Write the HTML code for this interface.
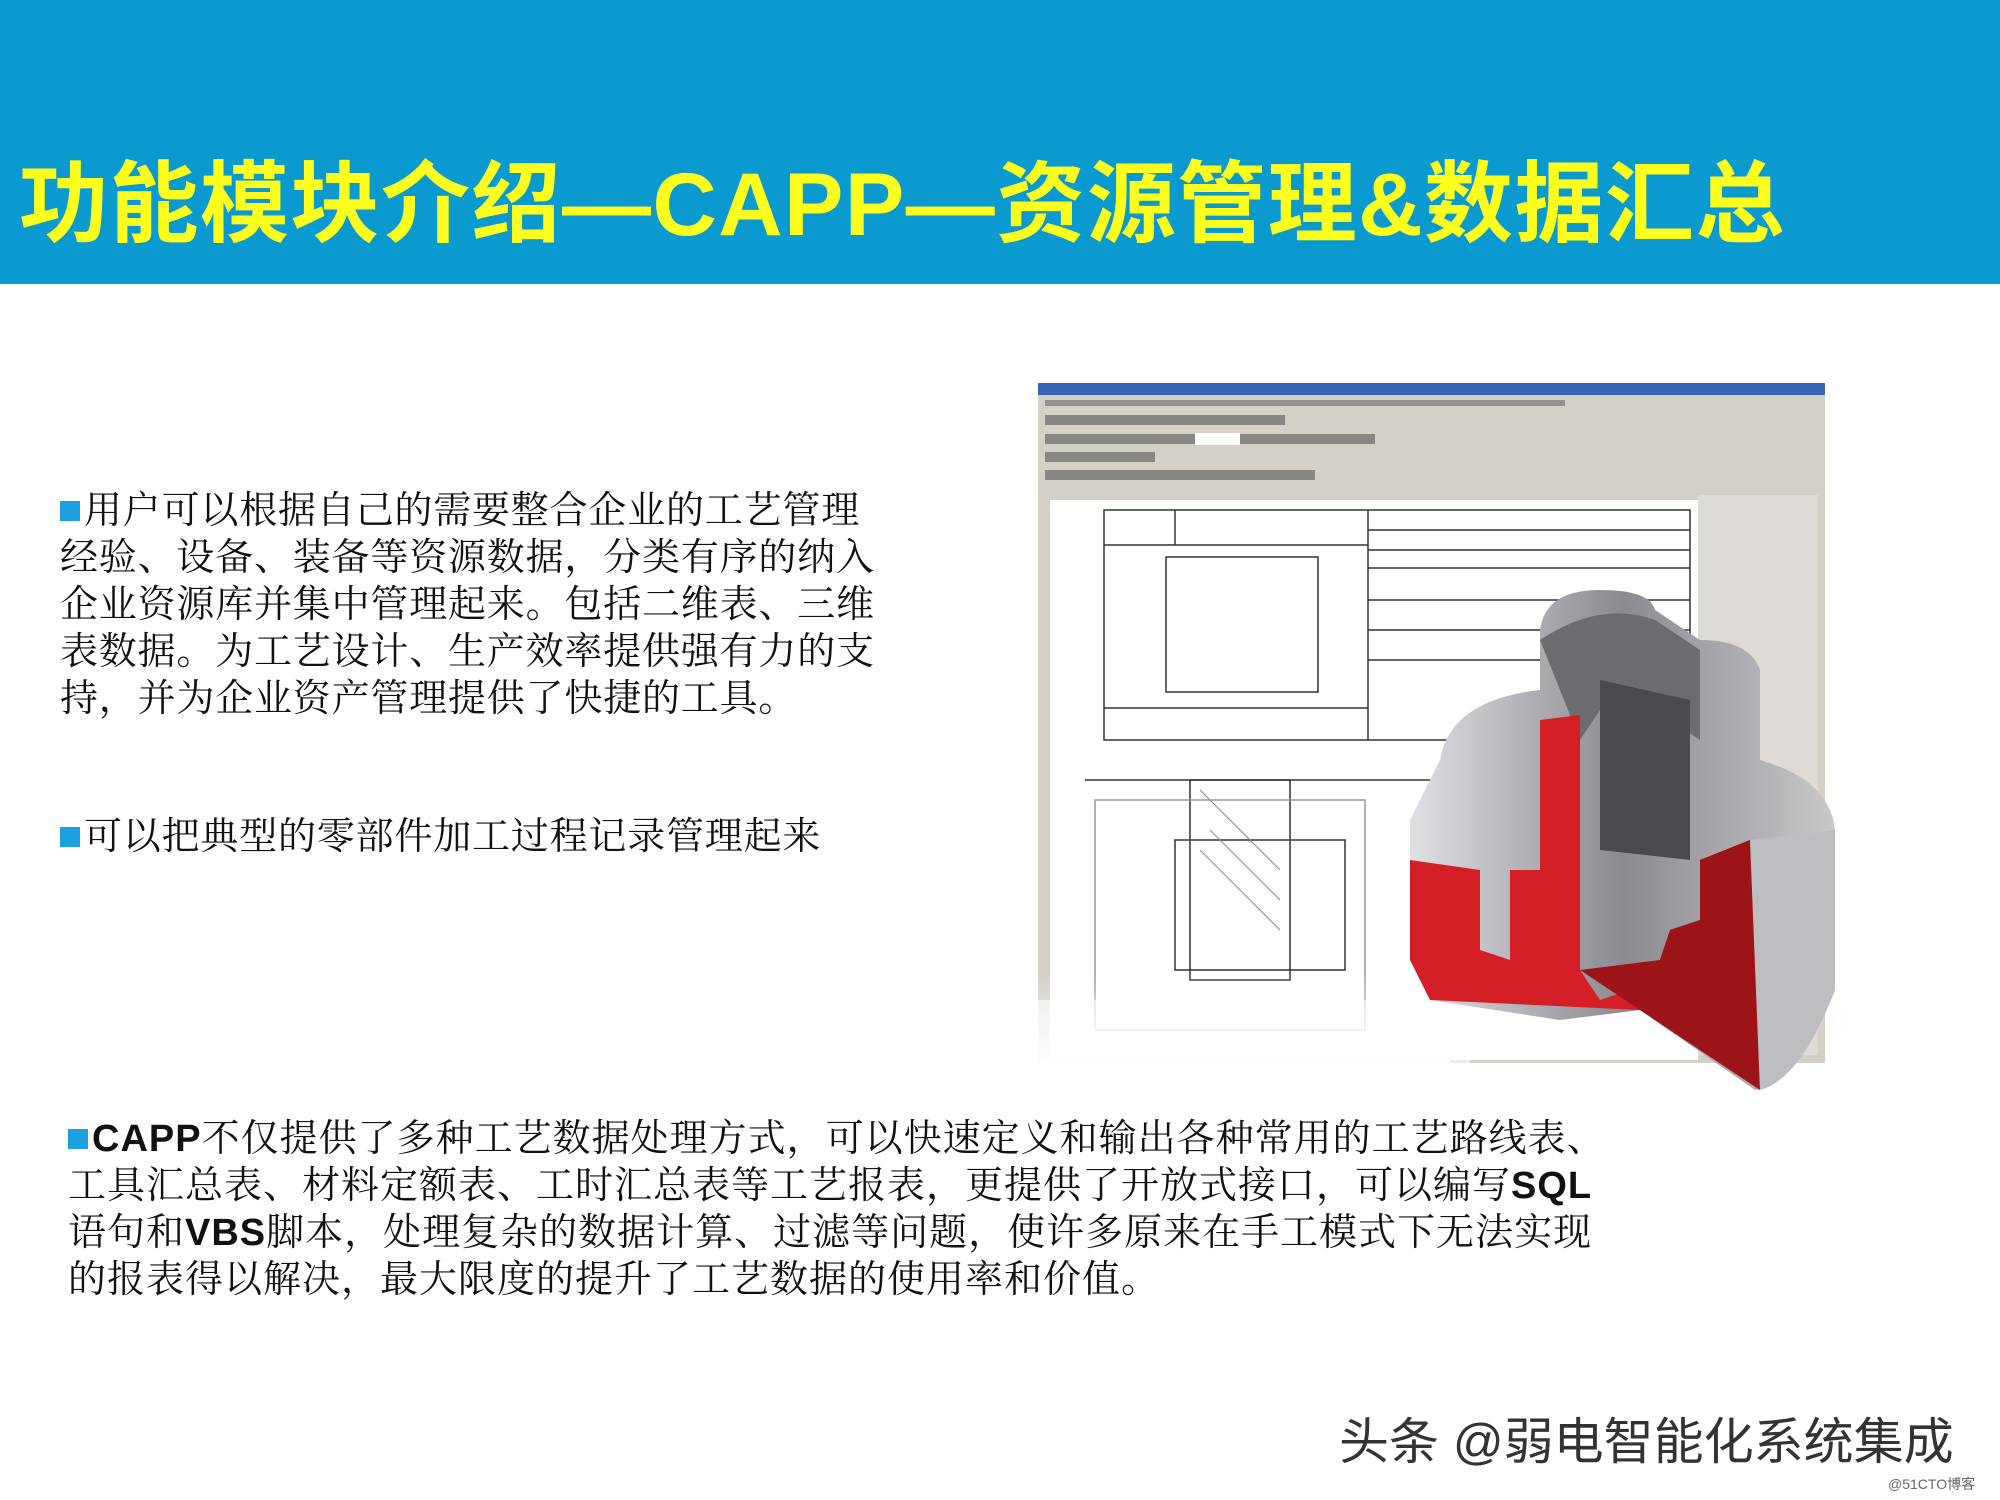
<!DOCTYPE html>
<html><head><meta charset="utf-8">
<style>
*{margin:0;padding:0;box-sizing:border-box}
html,body{width:2000px;height:1500px;background:#fff;overflow:hidden}
body{position:relative;font-family:"Liberation Sans","Noto Sans CJK SC",sans-serif}
.hdr{position:absolute;left:0;top:0;width:2000px;height:284px;background:#0a9ad0}
.title{position:absolute;left:19px;top:160px;font-size:89px;font-weight:bold;color:#ffff1e;white-space:nowrap;line-height:1;font-family:"Liberation Sans","Noto Sans CJK SC",sans-serif;letter-spacing:1.5px}
.p{position:absolute;font-family:"Liberation Serif","Noto Serif CJK SC",serif;font-size:38px;color:#111;line-height:47px;white-space:nowrap}
.p b{font-family:"Liberation Sans",sans-serif;font-weight:bold}
.sq{display:inline-block;width:20px;height:20px;background:#1aa0e0;margin-right:4px;vertical-align:2px}
.wm{position:absolute;left:1339px;top:1402px;font-size:50px;color:#333;font-family:"Liberation Sans","Noto Sans CJK SC",sans-serif;white-space:nowrap}
.wm2{position:absolute;left:1888px;top:1474px;font-size:14px;color:#666;white-space:nowrap;font-family:"Liberation Sans","Noto Sans CJK SC",sans-serif}
</style></head><body>
<div class="hdr"></div>
<div class="title">功能模块介绍—CAPP—资源管理&amp;数据汇总</div>

<div class="p" style="left:60px;top:488px;letter-spacing:0.8px"><span class="sq"></span>用户可以根据自己的需要整合企业的工艺管理<br>经验、设备、装备等资源数据，分类有序的纳入<br>企业资源库并集中管理起来。包括二维表、三维<br>表数据。为工艺设计、生产效率提供强有力的支<br>持，并为企业资产管理提供了快捷的工具。</div>

<div class="p" style="left:60px;top:814px;letter-spacing:0.8px"><span class="sq"></span>可以把典型的零部件加工过程记录管理起来</div>

<div class="p" style="left:68px;top:1116px;letter-spacing:1px"><span class="sq"></span><b>CAPP</b>不仅提供了多种工艺数据处理方式，可以快速定义和输出各种常用的工艺路线表、<br>工具汇总表、材料定额表、工时汇总表等工艺报表，更提供了开放式接口，可以编写<b>SQL</b><br>语句和<b>VBS</b>脚本，处理复杂的数据计算、过滤等问题，使许多原来在手工模式下无法实现<br>的报表得以解决，最大限度的提升了工艺数据的使用率和价值。</div>

<svg style="position:absolute;left:0;top:0" width="2000" height="1500">
<defs>
<linearGradient id="fade" x1="0" y1="0" x2="0" y2="1"><stop offset="0.5" stop-color="#fff" stop-opacity="0"/><stop offset="1" stop-color="#fff" stop-opacity="1"/></linearGradient>
<radialGradient id="sh"><stop offset="0" stop-color="#888"/><stop offset="1" stop-color="#fff" stop-opacity="0"/></radialGradient>
<linearGradient id="gr" x1="0" x2="1"><stop offset="0" stop-color="#e0e0e4"/><stop offset="0.5" stop-color="#8a8a90"/><stop offset="1" stop-color="#c9c9cc"/></linearGradient>
</defs>
<ellipse cx="1670" cy="1020" rx="190" ry="45" fill="url(#sh)"/>
<rect x="1038" y="383" width="787" height="680" fill="#d4d0c8"/>
<rect x="1038" y="383" width="787" height="12" fill="#3a64b8"/>
<g fill="#555">
<rect x="1045" y="400" width="520" height="6" opacity=".5"/>
<rect x="1045" y="415" width="240" height="10" opacity=".6"/>
<rect x="1045" y="434" width="330" height="10" opacity=".6"/>
<rect x="1045" y="452" width="110" height="10" opacity=".6"/>
<rect x="1045" y="470" width="270" height="10" opacity=".6"/>
</g>
<rect x="1195" y="433" width="45" height="12" fill="#fff"/>
<rect x="1050" y="500" width="648" height="560" fill="#fff"/>
<rect x="1698" y="495" width="120" height="560" fill="#dedad6"/>
<g stroke="#333" stroke-width="1.5" fill="none">
<rect x="1104" y="510" width="586" height="230"/>
<line x1="1104" y1="545" x2="1368" y2="545"/>
<line x1="1368" y1="510" x2="1368" y2="740"/>
<line x1="1175" y1="510" x2="1175" y2="545"/>
<line x1="1368" y1="530" x2="1690" y2="530"/><line x1="1368" y1="550" x2="1690" y2="550"/>
<line x1="1368" y1="568" x2="1690" y2="568"/><line x1="1368" y1="600" x2="1690" y2="600"/>
<line x1="1368" y1="630" x2="1690" y2="630"/><line x1="1368" y1="660" x2="1690" y2="660"/>
<rect x="1166" y="557" width="152" height="135"/>
<line x1="1104" y1="708" x2="1368" y2="708"/>
<rect x="1190" y="780" width="100" height="200"/>
<rect x="1175" y="840" width="170" height="130"/>
<rect x="1095" y="800" width="270" height="230" stroke="#999"/>
<line x1="1085" y1="780" x2="1440" y2="780"/>
</g>
<g stroke="#888" stroke-width="1">
<line x1="1200" y1="790" x2="1280" y2="870"/><line x1="1210" y1="830" x2="1280" y2="900"/><line x1="1200" y1="850" x2="1280" y2="930"/>
</g>
<rect x="1030" y="880" width="420" height="190" fill="url(#fade)"/>
<rect x="1030" y="1000" width="440" height="80" fill="#fff" opacity=".6"/>
<path d="M1440,760 Q1450,700 1540,690 L1540,630 Q1545,590 1600,590 Q1650,590 1655,610 L1700,640 Q1750,640 1760,670 L1760,760 Q1830,780 1835,830 L1835,990 Q1800,1080 1755,1090 L1640,1010 L1560,1020 L1430,1000 L1410,950 L1410,820 Z" fill="url(#gr)"/>
<path d="M1540,640 Q1600,600 1655,620 L1700,650 L1700,740 L1640,700 L1600,710 L1580,740 Z" fill="#6b6b70"/>
<path d="M1600,680 L1690,700 L1690,860 L1600,850 Z" fill="#4a4a4e"/>
<path d="M1410,860 L1480,870 L1480,950 L1510,960 L1510,870 L1540,870 L1540,720 L1580,715 L1580,970 L1600,1000 L1660,980 L1660,960 L1670,930 L1700,920 L1700,860 L1750,840 L1760,1090 L1640,1010 L1430,1000 L1410,960 Z" fill="#d41f26"/>
<path d="M1580,970 L1660,960 L1670,930 L1700,920 L1700,860 L1750,840 L1760,1090 L1640,1010 Z" fill="#9c1418"/>
<path d="M1750,840 L1835,830 L1835,990 Q1800,1080 1760,1090 Z" fill="#bdbdc2"/>
</svg>

<div class="wm">头条 @弱电智能化系统集成</div>
<div class="wm2">@51CTO博客</div>
</body></html>
